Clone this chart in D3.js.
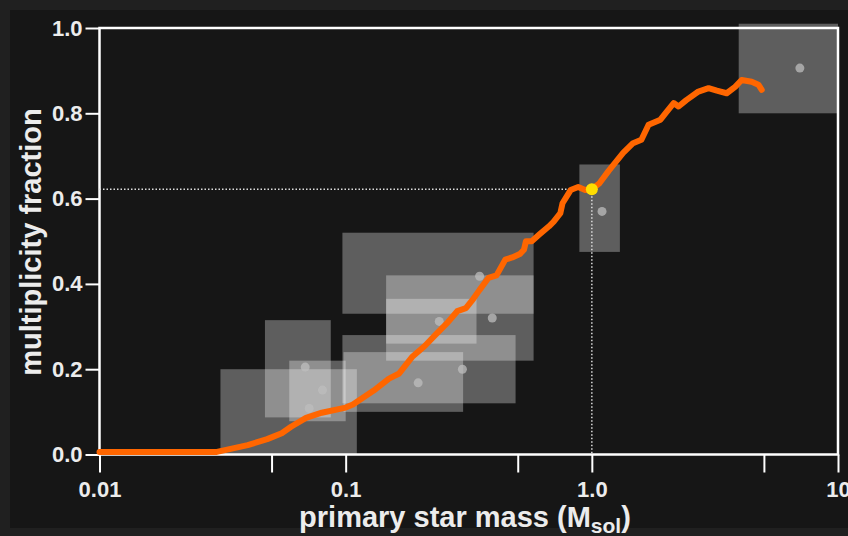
<!DOCTYPE html>
<html>
<head>
<meta charset="utf-8">
<script src="https://cdn.jsdelivr.net/npm/d3@7"></script>
<style>
  html, body { margin: 0; padding: 0; background: #202020; }
  svg { display: block; }
  text { font-family: "Liberation Sans", Arial, sans-serif; font-weight: bold; fill: #ececec; }
</style>
</head>
<body>
<svg id="chart" width="848" height="536"></svg>
<script>
// multiplicity fraction vs primary mass
const curveMass = [0.01, 0.03, 0.04, 0.048, 0.055, 0.06, 0.069, 0.08, 0.1, 0.107, 0.13, 0.15, 0.165, 0.187, 0.21, 0.232, 0.26, 0.284, 0.308, 0.33, 0.35, 0.38, 0.41, 0.445, 0.475, 0.51, 0.53, 0.54, 0.57, 0.61, 0.67, 0.70, 0.745, 0.76, 0.82, 0.88, 0.94, 1.0, 1.07, 1.17, 1.34, 1.47, 1.59, 1.7, 1.9, 1.99, 2.15, 2.25, 2.42, 2.71, 2.98, 3.22, 3.53, 3.82, 4.06, 4.46, 4.75, 4.9];
const curveFrac = [0.006, 0.006, 0.022, 0.036, 0.05, 0.065, 0.086, 0.098, 0.11, 0.117, 0.15, 0.178, 0.19, 0.23, 0.255, 0.281, 0.31, 0.336, 0.343, 0.365, 0.386, 0.414, 0.42, 0.457, 0.462, 0.47, 0.48, 0.5, 0.5, 0.515, 0.535, 0.546, 0.566, 0.589, 0.62, 0.627, 0.62, 0.622, 0.635, 0.665, 0.707, 0.73, 0.738, 0.773, 0.785, 0.80, 0.824, 0.816, 0.831, 0.851, 0.859, 0.853, 0.847, 0.862, 0.878, 0.874, 0.867, 0.855];

// observed surveys: [mass lo, mass hi, fraction lo, fraction hi]
const surveyBoxes = [
  [0.031, 0.111, 0.0, 0.2],
  [0.047, 0.087, 0.087, 0.315],
  [0.059, 0.1, 0.078, 0.22],
  [0.097, 0.49, 0.12, 0.28],
  [0.098, 0.30, 0.10, 0.24],
  [0.097, 0.58, 0.33, 0.52],
  [0.146, 0.58, 0.22, 0.42],
  [0.146, 0.34, 0.26, 0.365],
  [0.89, 1.3, 0.475, 0.68],
  [3.95, 10, 0.8, 1.01]
];
const surveyMass = [0.0685, 0.0805, 0.0711, 0.197, 0.298, 0.24, 0.35, 0.394, 1.10, 7.0];
const surveyFrac = [0.205, 0.151, 0.108, 0.168, 0.2, 0.312, 0.418, 0.32, 0.57, 0.906];

const markMass = 1.0;
const markFrac = 0.622;

const xTicks = [0.01, 0.05, 0.1, 0.5, 1, 5, 10];
const xTickLabels = {0.01: "0.01", 0.1: "0.1", 1: "1.0", 10: "10"};
const yTicks = [0, 0.2, 0.4, 0.6, 0.8, 1.0];

const svg = d3.select('#chart');

svg.append('rect')
  .attr('x', 10).attr('y', 10)
  .attr('width', 838).attr('height', 518)
  .attr('fill', '#161616');

const x = d3.scaleLog().domain([0.01, 10]).range([99.5, 838]);
const y = d3.scaleLinear().domain([0, 1]).range([454.5, 28]);

// survey boxes
svg.append('g')
  .selectAll('rect')
  .data(surveyBoxes)
  .enter()
  .append('rect')
  .attr('x', d => x(d[0]))
  .attr('y', d => y(d[3]))
  .attr('width', d => x(d[1]) - x(d[0]))
  .attr('height', d => y(d[2]) - y(d[3]))
  .attr('fill', '#ffffff')
  .attr('fill-opacity', 0.31);

// frame
svg.append('rect')
  .attr('x', x(0.01)).attr('y', y(1))
  .attr('width', x(10) - x(0.01))
  .attr('height', y(0) - y(1))
  .attr('fill', 'none')
  .attr('stroke', '#fff')
  .attr('stroke-width', 2.5);

const xAxis = d3.axisBottom(x)
  .tickValues(xTicks)
  .tickFormat(d => xTickLabels[d] || '')
  .tickSize(18)
  .tickPadding(9);

const gx = svg.append('g')
  .attr('transform', `translate(0,${y(0)})`)
  .call(xAxis);

const yAxis = d3.axisLeft(y)
  .tickValues(yTicks)
  .tickFormat(d3.format('.1f'))
  .tickSize(14)
  .tickPadding(3);

const gy = svg.append('g')
  .attr('transform', `translate(${x(0.01)},0)`)
  .call(yAxis);

[gx, gy].forEach(g => {
  g.select('.domain').remove();
  g.selectAll('line').attr('stroke', '#fff').attr('stroke-width', 2);
  g.selectAll('text')
    .attr('fill', '#ececec')
    .style('font-size', '22px')
    .style('font-family', '"Liberation Sans", Arial, sans-serif')
    .style('font-weight', 'bold');
});

// survey points
svg.append('g')
  .selectAll('circle')
  .data(surveyMass)
  .enter()
  .append('circle')
  .attr('cx', d => x(d))
  .attr('cy', (d, i) => y(surveyFrac[i]))
  .attr('r', 4.5)
  .attr('fill', '#bdbdbd')
  .attr('fill-opacity', 0.75);

// guide lines to the highlighted point
svg.append('line')
  .attr('x1', x(0.01)).attr('x2', x(markMass))
  .attr('y1', y(markFrac)).attr('y2', y(markFrac))
  .attr('stroke', '#ddd').attr('stroke-width', 1.5)
  .attr('stroke-dasharray', '1.5,2');

svg.append('line')
  .attr('x1', x(markMass)).attr('x2', x(markMass))
  .attr('y1', y(markFrac)).attr('y2', y(0))
  .attr('stroke', '#ddd').attr('stroke-width', 1.5)
  .attr('stroke-dasharray', '1.5,2');

const line = d3.line()
  .x(d => x(d[0]))
  .y(d => y(d[1]));

svg.append('path')
  .datum(curveMass.map((m, i) => [m, curveFrac[i]]))
  .attr('d', line)
  .attr('fill', 'none')
  .attr('stroke', '#ff6600')
  .attr('stroke-width', 6)
  .attr('stroke-linejoin', 'round')
  .attr('stroke-linecap', 'round');

svg.append('circle')
  .attr('cx', x(markMass))
  .attr('cy', y(markFrac))
  .attr('r', 6)
  .attr('fill', '#ffdd00');

// axis titles
const xt = svg.append('text')
  .attr('x', 465)
  .attr('y', 527)
  .attr('text-anchor', 'middle')
  .style('font-size', '29px');
xt.append('tspan').text('primary star mass (M');
xt.append('tspan').attr('dy', 6).style('font-size', '21px').text('sol');
xt.append('tspan').attr('dy', -6).text(')');

svg.append('text')
  .attr('transform', 'translate(41,242) rotate(-90)')
  .attr('text-anchor', 'middle')
  .style('font-size', '29px')
  .text('multiplicity fraction');
</script>
</body>
</html>
